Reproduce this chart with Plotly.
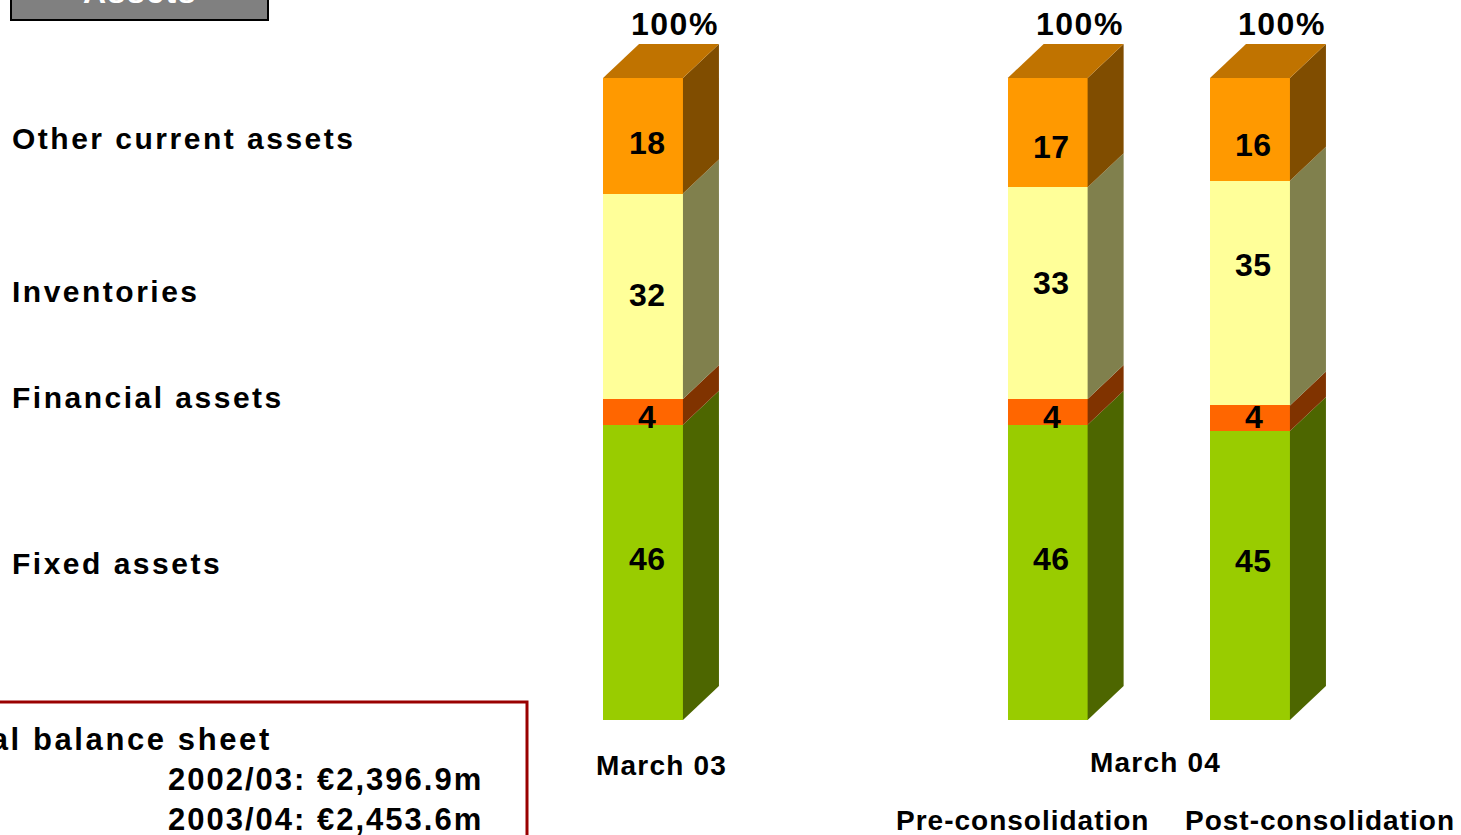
import plotly.graph_objects as go

# Asset structure (% of total balance sheet)
bar_names = ["March 03", "Pre-consolidation", "Post-consolidation"]
segments = ["Fixed assets", "Financial assets", "Inventories", "Other current assets"]
fixed_assets = [46, 46, 45]
financial_assets = [4, 4, 4]
inventories = [32, 33, 35]
other_current = [18, 17, 16]
totals = ["100%", "100%", "100%"]
balance_totals = ["2002/03: €2,396.9m", "2003/04: €2,453.6m"]

series = [fixed_assets, financial_assets, inventories, other_current]

# Layout constants
W, H = 1461, 835
bar_pos = [0, 2, 3]
bar_w = 0.395
unit_px = 202.33          # pixels per x unit
y_px = 6.42               # pixels per percentage point
depth_dx = 36 / unit_px   # 3D depth offset in x units
depth_dy = 34 / y_px      # 3D depth offset in y units

front_cols = ["#99CC00", "#FF6600", "#FFFF99", "#FF9900"]
side_cols = ["#4D6600", "#803300", "#80804D", "#804D00"]
top_col = "#C07300"

FONT = "Arial, Liberation Sans, sans-serif"


def spaced(text, sp):
    return f'<span style="letter-spacing:{sp}px"><b>{text}</b></span>'


fig = go.Figure()

# front faces
for name, vals, col in zip(segments, series, front_cols):
    fig.add_trace(go.Bar(
        x=bar_pos, y=vals, width=bar_w, name=name,
        marker=dict(color=col, line=dict(width=0)),
        hoverinfo="skip", showlegend=False,
    ))

# side and top faces
for i, xp in enumerate(bar_pos):
    xl = xp - bar_w / 2
    xr = xp + bar_w / 2
    base = 0
    for s, vals in enumerate(series):
        top = base + vals[i]
        fig.add_trace(go.Scatter(
            x=[xr, xr + depth_dx, xr + depth_dx, xr, xr],
            y=[base, base + depth_dy, top + depth_dy, top, base],
            mode="lines", fill="toself", fillcolor=side_cols[s],
            line=dict(width=0), hoverinfo="skip", showlegend=False,
        ))
        base = top
    fig.add_trace(go.Scatter(
        x=[xl, xl + depth_dx, xr + depth_dx, xr, xl],
        y=[base, base + depth_dy, base + depth_dy, base, base],
        mode="lines", fill="toself", fillcolor=top_col,
        line=dict(width=0), hoverinfo="skip", showlegend=False,
    ))

annotations = []

# segment value labels (pixel nudges per label)
label_dy = [
    [-13, 5, -1, 7],
    [-13, 5, -10, 14],
    [-15, -1, -28, 16],
]
for i, xp in enumerate(bar_pos):
    base = 0
    for s, vals in enumerate(series):
        v = vals[i]
        annotations.append(dict(
            x=xp, y=base + v / 2, xref="x", yref="y",
            text=spaced(v, 0.5), showarrow=False,
            xshift=4, yshift=-label_dy[i][s],
            font=dict(family=FONT, size=32, color="black"),
        ))
        base += v
    annotations.append(dict(
        x=xp, y=base + depth_dy, xref="x", yref="y",
        text=spaced(totals[i], 1.5), showarrow=False,
        xanchor="center", yanchor="bottom", xshift=32, yshift=0,
        font=dict(family=FONT, size=32, color="black"),
    ))


def px(x, y):
    return x / W, 1 - y / H


def add_text(text, x, y, xanchor="left", size=30, color="black", sp=2.5):
    ax, ay = px(x, y)
    annotations.append(dict(
        x=ax, y=ay, xref="paper", yref="paper", text=spaced(text, sp),
        showarrow=False, xanchor=xanchor, yanchor="middle",
        font=dict(family=FONT, size=size, color=color),
    ))


# row labels
add_text("Other current assets", 10, 139)
add_text("Inventories", 10, 291)
add_text("Financial assets", 10, 398)
add_text("Fixed assets", 10, 563)

# category labels
add_text("March 03", 661, 765, xanchor="center", size=28, sp=1.2)
add_text("March 04", 1155, 762, xanchor="center", size=28, sp=1.2)
add_text("Pre-consolidation", 1022, 820, xanchor="center", size=28, sp=1.0)
add_text("Post-consolidation", 1320, 820, xanchor="center", size=28, sp=1.0)

# total balance sheet box
add_text("Total balance sheet", 274, 739, xanchor="right", size=31, sp=2.6)
add_text(balance_totals[0], 485, 779, xanchor="right", size=31, sp=2.0)
add_text(balance_totals[1], 485, 819, xanchor="right", size=31, sp=2.0)

# section header
add_text("Assets", 140, -8, xanchor="center", size=32, color="white", sp=1.5)

bx0, by0 = px(-20, 702)
bx1, by1 = px(527, 880)
hx0, hy0 = px(11, -40)
hx1, hy1 = px(268, 20)
shapes = [
    dict(type="rect", xref="paper", yref="paper", x0=bx0, x1=bx1, y0=by1, y1=by0,
         line=dict(color="#990000", width=3), fillcolor="rgba(0,0,0,0)"),
    dict(type="rect", xref="paper", yref="paper", x0=hx0, x1=hx1, y0=hy1, y1=hy0,
         line=dict(color="black", width=2), fillcolor="#808080", layer="below"),
]

fig.update_layout(
    width=W, height=H,
    margin=dict(l=0, r=0, t=0, b=0),
    paper_bgcolor="white", plot_bgcolor="white",
    barmode="stack", showlegend=False,
    xaxis=dict(range=[-643 / unit_px, (W - 643) / unit_px], visible=False, fixedrange=True),
    yaxis=dict(range=[-(H - 720) / y_px, 100 + 78 / y_px], visible=False, fixedrange=True),
    annotations=annotations,
    shapes=shapes,
)

fig.write_html("out.html")
